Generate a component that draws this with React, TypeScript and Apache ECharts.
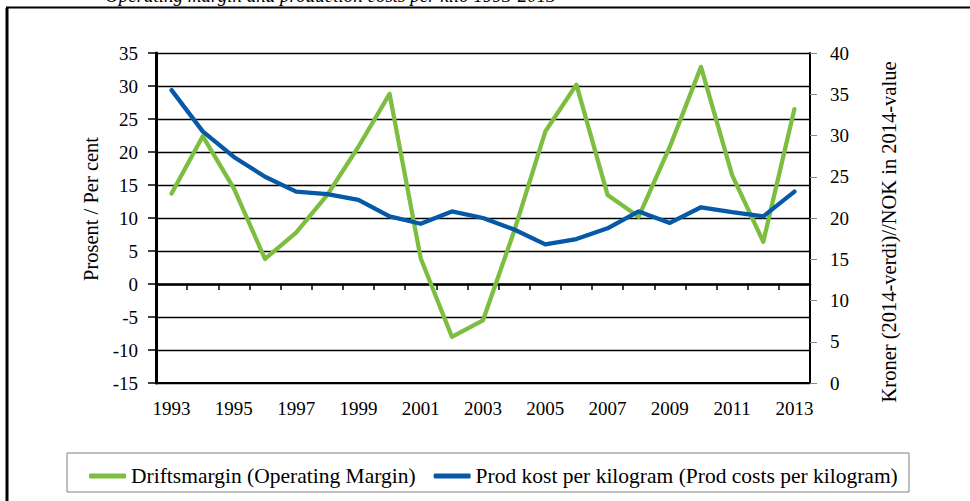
import React, { useEffect, useRef } from "react";
import * as echarts from "echarts";

const years = ["1993","1994","1995","1996","1997","1998","1999","2000","2001","2002","2003","2004","2005","2006","2007","2008","2009","2010","2011","2012","2013"];
const marginValues = [13.7, 22.4, 14.5, 3.8, 7.8, 13.5, 20.8, 28.8, 3.9, -8.0, -5.5, 8.0, 23.1, 30.2, 13.5, 10.2, 20.8, 32.9, 16.5, 6.4, 26.5];
const costValues = [35.5, 30.5, 27.4, 25.0, 23.2, 22.9, 22.2, 20.2, 19.3, 20.8, 20.0, 18.6, 16.8, 17.45, 18.75, 20.8, 19.4, 21.3, 20.7, 20.2, 23.2];

const marginName = "Driftsmargin (Operating Margin)";
const costName = "Prod kost per kilogram (Prod costs per kilogram)";
const leftTitle = "Prosent / Per cent";
const rightTitle = "Kroner (2014-verdi)//NOK in 2014-value";
const caption = "Operating margin and production costs per kilo 1993-2013";

const FONT = "'Liberation Serif', 'Times New Roman', serif";
const GREEN = "#7DBE41";
const BLUE = "#0559A6";

export default function App() {
  const ref = useRef<HTMLDivElement>(null);
  useEffect(() => {
    if (!ref.current) return;
    const chart = echarts.init(ref.current, undefined, { renderer: "svg" });
    chart.setOption({
      animation: false,
      backgroundColor: "#ffffff",
      textStyle: { fontFamily: FONT },
      grid: { left: 156, right: 160, top: 53, bottom: 118, containLabel: false },
      legend: {
        left: 84,
        top: 460,
        icon: "roundRect",
        itemWidth: 37,
        itemHeight: 5,
        itemGap: 18,
        textStyle: { fontFamily: FONT, fontSize: 21.5, color: "#000" },
        data: [marginName, costName],
      },
      xAxis: [
        {
          type: "category",
          data: years,
          position: "bottom",
          boundaryGap: true,
          axisLine: { show: true, onZero: false, lineStyle: { color: "#000", width: 2 } },
          axisTick: { show: false },
          axisLabel: { interval: 1, fontFamily: FONT, fontSize: 19, color: "#000", margin: 16 },
          splitLine: { show: false },
        },
        {
          type: "category",
          data: years,
          position: "top",
          boundaryGap: true,
          axisLine: { show: true, onZero: true, onZeroAxisIndex: 0, lineStyle: { color: "#000", width: 2.5 } },
          axisTick: { show: true, inside: true, interval: 0, length: 6, lineStyle: { color: "#000", width: 1.5 } },
          axisLabel: { show: false },
          splitLine: { show: false },
        },
      ],
      yAxis: [
        {
          type: "value",
          min: -15,
          max: 35,
          interval: 5,
          position: "left",
          name: leftTitle,
          nameLocation: "middle",
          nameRotate: 90,
          nameGap: 55,
          nameTextStyle: { fontFamily: FONT, fontSize: 20.5, color: "#000", padding: [0, 0, 0, 18] },
          axisLine: { show: true, lineStyle: { color: "#000", width: 3 } },
          axisTick: { show: true, length: 8, lineStyle: { color: "#000", width: 1.5 } },
          axisLabel: { fontFamily: FONT, fontSize: 19, color: "#000", margin: 18 },
          splitLine: { show: true, lineStyle: { color: "#000", width: 1.3 } },
        },
        {
          type: "value",
          min: 0,
          max: 40,
          interval: 5,
          position: "right",
          name: rightTitle,
          nameLocation: "middle",
          nameRotate: 90,
          nameGap: 68,
          nameTextStyle: { fontFamily: FONT, fontSize: 20.5, color: "#000", padding: [0, 28, 0, 0] },
          axisLine: { show: true, lineStyle: { color: "#000", width: 2 } },
          axisTick: { show: true, length: 7, lineStyle: { color: "#888", width: 1 } },
          axisLabel: { fontFamily: FONT, fontSize: 19, color: "#000", margin: 20 },
          splitLine: { show: false },
        },
      ],
      graphic: [
        { type: "line", shape: { x1: 7, y1: 8, x2: 7, y2: 501 }, style: { stroke: "#000", lineWidth: 3 } },
        { type: "line", shape: { x1: 6, y1: 7.5, x2: 970, y2: 7.5 }, style: { stroke: "#000", lineWidth: 2 } },
        {
          type: "text",
          x: 105,
          y: -5,
          style: { text: caption, fontFamily: FONT, fontSize: 19, fontStyle: "italic", fill: "#000", verticalAlign: "middle" },
        },
        {
          type: "rect",
          shape: { x: 67, y: 453, width: 842, height: 39 },
          style: { fill: "none", stroke: "#808080", lineWidth: 1 },
          z: 0,
        },
      ],
      series: [
        {
          name: marginName,
          type: "line",
          xAxisIndex: 0,
          yAxisIndex: 0,
          data: marginValues,
          symbol: "none",
          color: GREEN,
          lineStyle: { color: GREEN, width: 4.3, cap: "round", join: "round" },
        },
        {
          name: costName,
          type: "line",
          xAxisIndex: 0,
          yAxisIndex: 1,
          data: costValues,
          symbol: "none",
          color: BLUE,
          lineStyle: { color: BLUE, width: 4.3, cap: "round", join: "round" },
        },
      ],
    });
    return () => chart.dispose();
  }, []);
  return (
    <div
      ref={ref}
      style={{ position: "fixed", left: 0, top: 0, width: 970, height: 501, background: "#fff" }}
    />
  );
}
